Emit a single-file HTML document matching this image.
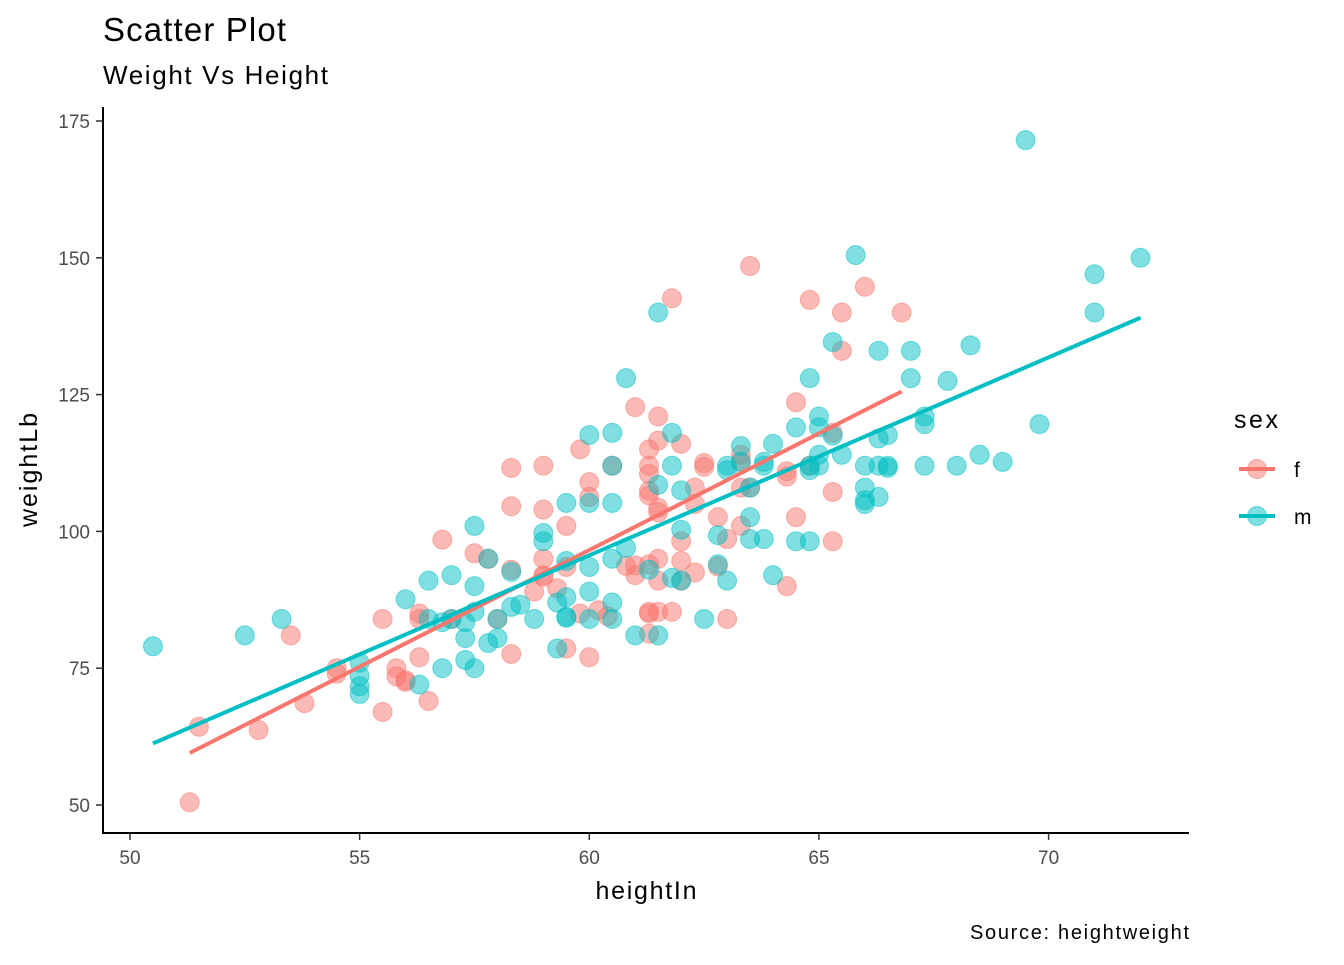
<!DOCTYPE html>
<html><head><meta charset="utf-8"><style>
body{margin:0;background:#fff;}
svg text{font-family:"Liberation Sans",Arial,sans-serif;}
</style></head><body>
<svg id="chart" width="1344" height="960" xmlns="http://www.w3.org/2000/svg">
<rect width="1344" height="960" fill="#fff"/>
<text x="103" y="41" font-size="33" textLength="183" fill="#000">Scatter Plot</text>
<text x="103" y="84" font-size="26" textLength="225" fill="#000">Weight Vs Height</text>
<g id="plot"></g>
<text x="646" y="899" font-size="25" textLength="101" text-anchor="middle">heightIn</text>
<text transform="translate(37,470) rotate(-90)" font-size="25" textLength="114" text-anchor="middle">weightLb</text>
<text x="1189" y="939" font-size="20" textLength="219" text-anchor="end">Source: heightweight</text>
<g>
<text x="1234" y="428" font-size="25" textLength="44">sex</text>
<g>
<line x1="1239" y1="469" x2="1275" y2="469" stroke="#F8766D" stroke-width="4"/>
<circle cx="1257" cy="469" r="9.5" fill="#F8766D" fill-opacity="0.5" stroke="#F8766D" stroke-opacity="0.5"/>
<text x="1294" y="477" font-size="21">f</text></g>
<g>
<line x1="1239" y1="516" x2="1275" y2="516" stroke="#00BFC4" stroke-width="4"/>
<circle cx="1257" cy="516" r="9.5" fill="#00BFC4" fill-opacity="0.5" stroke="#00BFC4" stroke-opacity="0.5"/>
<text x="1294" y="524" font-size="21">m</text></g>
</g>
</svg>
<script>
const xTicks=[50,55,60,65,70];
const yTicks=[50,75,100,125,150,175];
const femaleHeight=[51.3,51.5,52.8,53.5,53.8,54.5,54.5,55.5,55.5,55.8,55.8,56,56,56.3,56.3,56.3,56.5,56.8,57,57.5,57.8,58,58.3,58.3,58.3,58.3,58.8,59,59,59,59,59,59.3,59.5,59.5,59.5,59.8,59.8,60,60,60,60.2,60.4,60.5,60.8,61,61,61,61.3,61.3,61.3,61.3,61.3,61.3,61.3,61.3,61.3,61.5,61.5,61.5,61.5,61.5,61.5,61.5,61.8,61.8,62,62,62,62,62.3,62.3,62.3,62.5,62.5,62.8,62.8,63,63,63.3,63.3,63.3,63.3,63.5,63.5,64.3,64.3,64.3,64.5,64.5,64.8,64.8,65.3,65.3,65.3,65.5,65.5,66,66.8];
const femaleWeight=[50.5,64.3,63.7,81,68.6,75,74,67,84,75,73.5,72.8,72.5,85,84,77,69,98.5,84,96,95,84,111.6,104.6,77.6,93,89,112,104,95,92,91.7,89.6,101,93.5,78.6,115,85,109,106.3,77,85.6,84.5,112,93.7,92,93.8,122.7,115,112,110.5,107.4,106.6,85,81.3,94,85.3,121,116.6,104.3,103.5,95,91,85.3,142.6,85.3,116,98.2,94.6,91,105,92.5,108,112.5,111.8,102.6,93.6,98.6,84,114,112.7,108,101,148.5,108,111,110,90,123.6,102.6,142.3,112,118,107.2,98.2,140,133,144.7,140];
const maleHeight=[50.5,52.5,53.3,55,55,55,55,56,56.3,56.5,56.5,56.8,56.8,57,57,57.3,57.3,57.3,57.5,57.5,57.5,57.5,57.8,57.8,58,58,58.3,58.3,58.5,58.8,59,59,59.3,59.3,59.5,59.5,59.5,59.5,59.5,60,60,60,60,60,60.5,60.5,60.5,60.5,60.5,60.5,60.8,60.8,61,61.3,61.5,61.5,61.5,61.8,61.8,61.8,62,62,62,62.5,62.8,62.8,63,63,63,63.3,63.3,63.5,63.5,63.5,63.8,63.8,63.8,64,64,64.5,64.5,64.8,64.8,64.8,64.8,65,65,65,65,65.3,65.3,65.5,65.8,66,66,66,66,66.3,66.3,66.3,66.3,66.5,66.5,66.5,67,67,67.3,67.3,67.3,67.8,68,68.3,68.5,69,69.5,69.8,71,71,72];
const maleWeight=[79,81,84,76,73.6,71.7,70.3,87.6,72,91,84,83.4,75,92,84,83.4,80.5,76.5,101,90,75,85.3,95,79.6,84,80.5,92.6,86.2,86.6,84,99.7,98.2,87,78.6,105.2,94.6,88,84.4,84.2,117.6,105.2,93.5,89,84,118,112,105.2,95,87,84,128,97,81,93,140,108.5,81,118,112,91.5,107.5,100.3,91,84,99.3,94,112,111.2,91,115.6,112.7,108,102.6,98.6,112.7,112,98.6,92,116,119,98.2,128,112,111.2,98.2,121,119,114,112,134.6,117.5,114,150.5,112,108,105.7,105,133,117,112,106.3,117.6,112,111.6,133,128,121,119.6,112,127.5,112,134,114,112.7,171.5,119.6,147,140,150];

const xS=v=>130+(v-50)*45.93;
const yS=v=>805-(v-50)*5.472;
const NS='http://www.w3.org/2000/svg';
const plot=document.getElementById('plot');
function mk(tag,attrs,parent){const e=document.createElementNS(NS,tag);for(const k in attrs)e.setAttribute(k,attrs[k]);(parent||plot).appendChild(e);return e;}

const xa=mk('line',{x1:103,y1:833,x2:1189,y2:833,stroke:'#000','stroke-width':2});


const ya=mk('line',{x1:103,y1:107,x2:103,y2:834,stroke:'#000','stroke-width':2});


xTicks.forEach(t=>{
  mk('line',{x1:xS(t),y1:833,x2:xS(t),y2:840,stroke:'#333','stroke-width':1.5});
  const tx=mk('text',{x:xS(t),y:864,'font-size':19,'text-anchor':'middle',fill:'#4d4d4d'});
  tx.textContent=t;
  
  
});
yTicks.forEach(t=>{
  mk('line',{x1:96,y1:yS(t),x2:103,y2:yS(t),stroke:'#333','stroke-width':1.5});
  const tx=mk('text',{x:90,y:yS(t)+7,'font-size':19,'text-anchor':'end',fill:'#4d4d4d'});
  tx.textContent=t;
  
  
});

function drawSeries(hs,ws,col,name){
  hs.forEach((h,i)=>{
    const c=mk('circle',{cx:xS(h),cy:yS(ws[i]),r:9.5,fill:col,'fill-opacity':0.5,stroke:col,'stroke-opacity':0.5,'stroke-width':1});
    
    
  });
}
function fitLine(hs,ws,col,name){
  const n=hs.length;let mx=0,my=0;hs.forEach((h,i)=>{mx+=h;my+=ws[i];});mx/=n;my/=n;
  let sxy=0,sxx=0;hs.forEach((h,i)=>{sxy+=(h-mx)*(ws[i]-my);sxx+=(h-mx)*(h-mx);});
  const b=sxy/sxx,a=my-b*mx;const x0=Math.min(...hs),x1=Math.max(...hs);
  const l=mk('line',{x1:xS(x0),y1:yS(a+b*x0),x2:xS(x1),y2:yS(a+b*x1),stroke:col,'stroke-width':4});
  
  
}
drawSeries(femaleHeight,femaleWeight,'#F8766D','f');
drawSeries(maleHeight,maleWeight,'#00BFC4','m');
fitLine(femaleHeight,femaleWeight,'#F8766D','f');
fitLine(maleHeight,maleWeight,'#00BFC4','m');
</script>
</body></html>
